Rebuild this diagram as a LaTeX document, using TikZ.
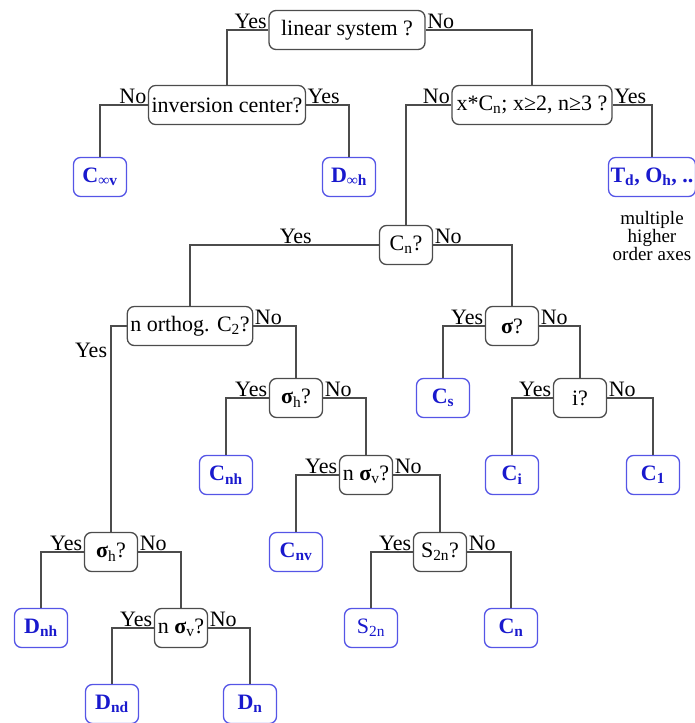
\documentclass[tikz,border=0pt]{standalone}
\usepackage{fontspec}
\setmainfont{Liberation Serif}
\usepackage{tikz}

\definecolor{leafblue}{RGB}{25,25,205}
\definecolor{leafedge}{RGB}{85,85,230}

\begin{document}
\begin{tikzpicture}[x=1pt, y=-1pt,
    every node/.style={font=\fontsize{22}{24}\selectfont},
    query/.style={rectangle, draw=black!70, line width=1.3pt, rounded corners=7pt, minimum height=39, minimum width=53, inner xsep=3pt, inner ysep=2pt},
    leaf/.style={rectangle, draw=leafedge, line width=1.3pt, rounded corners=7pt, minimum height=39, minimum width=53, inner xsep=3pt, inner ysep=2pt, text=leafblue, font=\fontsize{22}{24}\selectfont\bfseries},
    branch/.style={draw=black!70, line width=1.2pt},
    leftlab/.style={pos=0, anchor=south east, inner sep=1pt},
    rightlab/.style={pos=0, anchor=south west, inner sep=1pt}
]
    \useasboundingbox (0,0) rectangle (695,723);

    % questions
    \node[query, minimum width=156] (linear) at (347,30) {linear system ?};
    \node[query] (inversion) at (227,105) {inversion center?};
    \node[query, minimum width=160] (multi) at (532,105) {x*C\textsubscript{n}; x≥2, n≥3 ?};
    \node[query] (cnq) at (406,245) {C\textsubscript{n}?};
    \node[query] (orthog) at (190,326) {n orthog. C\textsubscript{2}?};
    \node[query] (sigma) at (512,326) {\textbf{σ}?};
    \node[query] (sigh) at (296,398) {\textbf{σ}\textsubscript{h}?};
    \node[query] (inv) at (580,398) {i?};
    \node[query] (sigv) at (366,475) {n \textbf{σ}\textsubscript{v}?};
    \node[query] (s2nq) at (440,552) {S\textsubscript{2n}?};
    \node[query] (dsigh) at (111,552) {\textbf{σ}\textsubscript{h}?};
    \node[query] (dsigv) at (181,628) {n \textbf{σ}\textsubscript{v}?};

    % point groups
    \node[leaf] (cinfv) at (100,177) {C\textsubscript{∞v}};
    \node[leaf] (dinfh) at (349,177) {D\textsubscript{∞h}};
    \node[leaf, inner xsep=2pt] (cubic) at (652,177) {T\textsubscript{d}, O\textsubscript{h}, ..};
    \node[align=center, font=\fontsize{19}{18}\selectfont] (axes) at (652,236) {multiple\\higher\\order axes};
    \node[leaf] (cs) at (443,398) {C\textsubscript{s}};
    \node[leaf] (cnh) at (226,475) {C\textsubscript{nh}};
    \node[leaf] (ci) at (512,475) {C\textsubscript{i}};
    \node[leaf] (cone) at (653,475) {C\textsubscript{1}};
    \node[leaf] (cnv) at (296,552) {C\textsubscript{nv}};
    \node[leaf, font=\fontsize{22}{24}\selectfont] (s2n) at (371,628) {S\textsubscript{2n}};
    \node[leaf] (cn) at (511,628) {C\textsubscript{n}};
    \node[leaf] (dnh) at (41,628) {D\textsubscript{nh}};
    \node[leaf] (dnd) at (112,704) {D\textsubscript{nd}};
    \node[leaf] (dn) at (250,704) {D\textsubscript{n}};

    % branches
    \draw[branch] (linear.west) -| node[leftlab] {Yes} (inversion.north);
    \draw[branch] (linear.east) -| node[rightlab] {No} (multi.north);
    \draw[branch] (inversion.west) -| node[leftlab] {No} (cinfv.north);
    \draw[branch] (inversion.east) -| node[rightlab] {Yes} (dinfh.north);
    \draw[branch] (multi.west) -| node[leftlab] {No} (cnq.north);
    \draw[branch] (multi.east) -| node[rightlab] {Yes} (cubic.north);
    \draw[branch] (cnq.west) -| node[pos=0.22, above, inner sep=1pt] {Yes} (orthog.north);
    \draw[branch] (cnq.east) -| node[rightlab] {No} (sigma.north);
    \draw[branch] (orthog.west) -| node[pos=0.56, left] {Yes} (dsigh.north);
    \draw[branch] (orthog.east) -| node[rightlab] {No} (sigh.north);
    \draw[branch] (sigma.west) -| node[leftlab] {Yes} (cs.north);
    \draw[branch] (sigma.east) -| node[rightlab] {No} (inv.north);
    \draw[branch] (sigh.west) -| node[leftlab] {Yes} (cnh.north);
    \draw[branch] (sigh.east) -| node[rightlab] {No} (sigv.north);
    \draw[branch] (inv.west) -| node[leftlab] {Yes} (ci.north);
    \draw[branch] (inv.east) -| node[rightlab] {No} (cone.north);
    \draw[branch] (sigv.west) -| node[leftlab] {Yes} (cnv.north);
    \draw[branch] (sigv.east) -| node[rightlab] {No} (s2nq.north);
    \draw[branch] (s2nq.west) -| node[leftlab] {Yes} (s2n.north);
    \draw[branch] (s2nq.east) -| node[rightlab] {No} (cn.north);
    \draw[branch] (dsigh.west) -| node[leftlab] {Yes} (dnh.north);
    \draw[branch] (dsigh.east) -| node[rightlab] {No} (dsigv.north);
    \draw[branch] (dsigv.west) -| node[leftlab] {Yes} (dnd.north);
    \draw[branch] (dsigv.east) -| node[rightlab] {No} (dn.north);
\end{tikzpicture}
\end{document}
